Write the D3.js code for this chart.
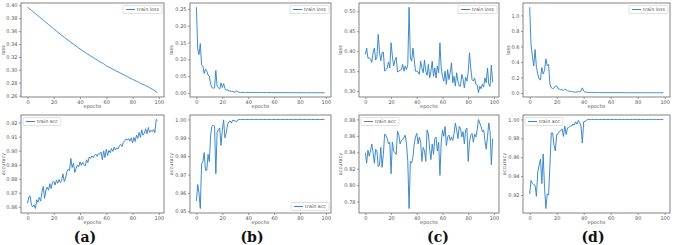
<!DOCTYPE html>
<html><head><meta charset="utf-8">
<script src="https://cdn.jsdelivr.net/npm/d3@7"></script>
<style>
html,body{margin:0;padding:0;background:#fff;}
svg{display:block;}
</style></head>
<body><svg id="c" width="676" height="245"></svg>
<script>
const epochs = d3.range(100);
const epochTicks = [0,20,40,60,80,100];
const panelLabels = ["(a)","(b)","(c)","(d)"];

const lossA = [0.397,0.3955,0.3938,0.3922,0.3905,0.3888,0.3872,0.3855,0.3839,0.3821,
0.3804,0.3787,0.3770,0.3754,0.3737,0.3720,0.3703,0.3686,0.3669,0.3653,
0.3636,0.3619,0.3602,0.3586,0.3570,0.3553,0.3537,0.3521,0.3505,0.3489,
0.3473,0.3458,0.3443,0.3428,0.3412,0.3397,0.3383,0.3368,0.3353,0.3338,
0.3324,0.3310,0.3296,0.3283,0.3269,0.3255,0.3242,0.3229,0.3216,0.3203,
0.3190,0.3178,0.3165,0.3153,0.3140,0.3128,0.3116,0.3104,0.3093,0.3081,
0.3060,0.3052,0.3043,0.3031,0.3020,0.3008,0.2997,0.2986,0.2975,0.2968,
0.2958,0.2947,0.2936,0.2926,0.2916,0.2906,0.2896,0.2886,0.2872,0.2862,
0.2852,0.2844,0.2833,0.2824,0.2815,0.2801,0.2792,0.2783,0.2774,0.2765,
0.2755,0.2744,0.2734,0.2724,0.2713,0.2700,0.2688,0.2675,0.2660,0.2645];

const accA = [0.8625,0.8670,0.8678,0.8612,0.8600,0.8615,0.8588,0.8650,0.8632,0.8668,
0.8641,0.8705,0.8745,0.8660,0.8720,0.8740,0.8718,0.8765,0.8730,0.8775,
0.8782,0.8755,0.8790,0.8768,0.8795,0.8772,0.8790,0.8835,0.8780,0.8805,
0.8850,0.8868,0.8858,0.8945,0.8880,0.8910,0.8845,0.8872,0.8898,0.8885,
0.8920,0.8895,0.8918,0.8900,0.8890,0.8935,0.8915,0.8955,0.8945,0.8962,
0.8950,0.8968,0.8975,0.8960,0.8978,0.8975,0.8990,0.8935,0.8998,0.8950,
0.9010,0.8965,0.9002,0.8985,0.9015,0.8995,0.9025,0.9005,0.9020,0.9012,
0.9035,0.9045,0.9030,0.9060,0.9070,0.9082,0.9075,0.9085,0.9068,0.9090,
0.9055,0.9095,0.9065,0.9110,0.9088,0.9130,0.9095,0.9148,0.9110,0.9125,
0.9155,0.9120,0.9165,0.9130,0.9145,0.9135,0.9150,0.9128,0.9222,0.9215];

const lossB = [0.255,0.130,0.114,0.147,0.084,0.079,0.058,0.071,0.065,0.053,
0.050,0.026,0.016,0.014,0.015,0.067,0.020,0.016,0.012,0.030,
0.016,0.028,0.014,0.008,0.010,0.005,0.007,0.004,0.005,0.003,
0.002,0.007,0.003,0.002,0.0018,0.0017,0.0016,0.0016,0.0015,0.0015,
0.0015,0.0014,0.0014,0.0014,0.0013,0.0013,0.0013,0.0013,0.0012,0.0012,
0.0012,0.0012,0.0012,0.0011,0.0011,0.0011,0.0011,0.0011,0.0011,0.0010,
0.0010,0.0010,0.0010,0.0010,0.0010,0.0010,0.0009,0.0009,0.0009,0.0009,
0.0009,0.0009,0.0009,0.0009,0.0009,0.0008,0.0008,0.0008,0.0008,0.0008,
0.0008,0.0008,0.0008,0.0008,0.0008,0.0008,0.0007,0.0007,0.0007,0.0007,
0.0007,0.0007,0.0007,0.0007,0.0007,0.0007,0.0007,0.0007,0.0007,0.0007];

const accB = [0.9556,0.9646,0.9600,0.9515,0.9758,0.9770,0.9820,0.9723,0.9723,0.9810,
0.9770,0.9915,0.9963,0.9970,0.9963,0.9704,0.9930,0.9944,0.9954,0.9858,
0.9940,0.9998,0.9900,0.9925,0.9970,0.9987,0.9992,0.9980,0.9996,0.9994,
0.9992,0.9987,0.9998,1,1,1,1,1,1,1,
1,1,1,1,1,1,1,1,1,1, 1,1,1,1,1,1,1,1,1,1,
1,1,1,1,1,1,1,1,1,1, 1,1,1,1,1,1,1,1,1,1,
1,1,1,1,1,1,1,1,1,1, 1,1,1,1,1,1,1,1,1,1];

const lossC = [0.392,0.408,0.383,0.383,0.381,0.372,0.396,0.408,0.378,0.386,
0.442,0.398,0.376,0.396,0.398,0.350,0.354,0.358,0.373,0.358,
0.421,0.388,0.363,0.377,0.385,0.348,0.350,0.352,0.354,0.367,
0.350,0.363,0.354,0.367,0.510,0.383,0.375,0.408,0.379,0.350,
0.350,0.348,0.342,0.375,0.358,0.346,0.378,0.350,0.340,0.367,
0.333,0.350,0.375,0.337,0.358,0.333,0.363,0.346,0.421,0.358,
0.337,0.325,0.350,0.317,0.354,0.329,0.346,0.371,0.321,0.337,
0.3125,0.346,0.325,0.3125,0.3125,0.342,0.329,0.308,0.335,0.325,
0.348,0.396,0.358,0.329,0.325,0.333,0.317,0.315,0.296,0.3125,
0.306,0.317,0.310,0.333,0.321,0.358,0.317,0.312,0.365,0.322];

const accC = [0.8396,0.8268,0.8426,0.8353,0.8417,0.8502,0.8396,0.8268,0.8438,0.8417,
0.8226,0.8238,0.8460,0.8217,0.8374,0.8621,0.8609,0.8566,0.8502,0.8523,
0.8140,0.8523,0.8417,0.8396,0.8374,0.8660,0.8609,0.8502,0.8545,0.8553,
0.8579,0.8609,0.8502,0.8289,0.7715,0.8289,0.8268,0.8340,0.8502,0.8587,
0.8630,0.8502,0.8587,0.8523,0.8289,0.8460,0.8417,0.8289,0.8672,0.8630,
0.8438,0.8311,0.8502,0.8374,0.8566,0.8587,0.8417,0.8523,0.8119,0.8523,
0.8672,0.8596,0.8715,0.8481,0.8587,0.8609,0.8545,0.8587,0.8545,0.8630,
0.8757,0.8672,0.8566,0.8715,0.8694,0.8587,0.8651,0.8502,0.8672,0.8694,
0.8289,0.8523,0.8609,0.8630,0.8523,0.8621,0.8587,0.8672,0.8800,0.8757,
0.8715,0.8651,0.8672,0.8545,0.8438,0.8587,0.8757,0.8651,0.8247,0.8566];

const lossD = [1.105,0.620,0.475,0.350,0.560,0.330,0.245,0.180,0.170,0.330,
0.245,0.290,0.440,0.350,0.370,0.118,0.067,0.055,0.065,0.088,
0.092,0.055,0.050,0.040,0.045,0.035,0.050,0.040,0.030,0.025,
0.020,0.018,0.015,0.013,0.012,0.014,0.018,0.015,0.025,0.067,
0.025,0.010,0.015,0.008,0.007,0.007,0.006,0.006,0.006,0.006,
0.006,0.006,0.006,0.005,0.005,0.005,0.005,0.005,0.005,0.005,
0.005,0.005,0.005,0.005,0.005,0.005,0.005,0.005,0.005,0.005,
0.004,0.004,0.004,0.004,0.004,0.004,0.004,0.004,0.004,0.004,
0.004,0.004,0.004,0.004,0.004,0.004,0.004,0.004,0.004,0.004,
0.004,0.004,0.004,0.004,0.004,0.004,0.004,0.004,0.004,0.004];

const accD = [0.921,0.9354,0.932,0.931,0.930,0.9186,0.9444,0.9516,0.958,0.932,
0.9634,0.928,0.9056,0.921,0.920,0.9516,0.9857,0.9857,0.973,0.9666,
0.984,0.9846,0.9874,0.988,0.990,0.982,0.993,0.984,0.991,0.9915,
0.993,0.993,0.9953,0.994,0.9975,0.995,0.999,0.9965,0.993,0.975,
0.9975,0.998,0.999,1,1,1,1,1,1,1,
1,1,1,1,1,1,1,1,1,1, 1,1,1,1,1,1,1,1,1,1,
1,1,1,1,1,1,1,1,1,1, 1,1,1,1,1,1,1,1,1,1,
1,1,1,1,1,1,1,1,1,1];

const ticksLossA = [0.26,0.28,0.30,0.32,0.34,0.36,0.38,0.40];
const ticksAccA  = [0.86,0.87,0.88,0.89,0.90,0.91,0.92];
const ticksLossB = [0.00,0.05,0.10,0.15,0.20,0.25];
const ticksAccB  = [0.95,0.96,0.97,0.98,0.99,1.00];
const ticksLossC = [0.30,0.35,0.40,0.45,0.50];
const ticksAccC  = [0.78,0.80,0.82,0.84,0.86,0.88];
const ticksLossD = [0.0,0.2,0.4,0.6,0.8,1.0];
const ticksAccD  = [0.92,0.94,0.96,0.98,1.00];

const svg = d3.select("#c");
const cols = [[21,164],[190,331],[359,499],[523,670]];
const rows = [[3,97],[115,213]];
const labelX = [85,252,438,593];

const panels = [
 {c:0,r:0,data:lossA,ticks:ticksLossA,fmt:".2f",ylab:"loss",leg:"train loss",pos:"ur"},
 {c:1,r:0,data:lossB,ticks:ticksLossB,fmt:".2f",ylab:"loss",leg:"train loss",pos:"ur"},
 {c:2,r:0,data:lossC,ticks:ticksLossC,fmt:".2f",ylab:"loss",leg:"train loss",pos:"ur"},
 {c:3,r:0,data:lossD,ticks:ticksLossD,fmt:".1f",ylab:"loss",leg:"train loss",pos:"ur"},
 {c:0,r:1,data:accA,ticks:ticksAccA,fmt:".2f",ylab:"accuracy",leg:"train acc",pos:"ul"},
 {c:1,r:1,data:accB,ticks:ticksAccB,fmt:".2f",ylab:"accuracy",leg:"train acc",pos:"lr"},
 {c:2,r:1,data:accC,ticks:ticksAccC,fmt:".2f",ylab:"accuracy",leg:"train acc",pos:"ul"},
 {c:3,r:1,data:accD,ticks:ticksAccD,fmt:".2f",ylab:"accuracy",leg:"train acc",pos:"ul"}
];

const FS = 5;
const FONT = "DejaVu Sans, sans-serif";
const lineColor = "#3585c8";
const textColor = "#555";

panels.forEach(p => {
  const [x0,x1] = cols[p.c], [y0,y1] = rows[p.r];
  const x = d3.scaleLinear().domain([-4.95,103.95]).range([x0,x1]);
  const [mn,mx] = d3.extent(p.data);
  const pad = (mx-mn)*0.05;
  const y = d3.scaleLinear().domain([mn-pad,mx+pad]).range([y1,y0]);
  const g = svg.append("g");

  const xa = g.append("g").attr("transform",`translate(0,${y1})`)
    .call(d3.axisBottom(x).tickValues(epochTicks).tickSize(2).tickPadding(1.5).tickFormat(d3.format("d")));
  const ya = g.append("g").attr("transform",`translate(${x0},0)`)
    .call(d3.axisLeft(y).tickValues(p.ticks).tickSize(2).tickPadding(1.5).tickFormat(d3.format(p.fmt)));
  [xa,ya].forEach(a=>{
    a.attr("font-family",FONT).attr("font-size",FS);
    a.select(".domain").remove();
    a.selectAll("line").attr("stroke","#555").attr("stroke-width",0.6);
    a.selectAll("text").attr("fill",textColor);
  });

  g.append("path").datum(p.data)
    .attr("fill","none").attr("stroke",lineColor).attr("stroke-width",0.95)
    .attr("stroke-linejoin","round")
    .attr("d",d3.line().x((d,i)=>x(epochs[i])).y(d=>y(d)));

  g.append("rect").attr("x",x0).attr("y",y0).attr("width",x1-x0).attr("height",y1-y0)
    .attr("fill","none").attr("stroke","#777").attr("stroke-width",0.9);

  g.append("text").attr("x",(x0+x1)/2).attr("y",y1+11).attr("text-anchor","middle")
    .attr("font-family",FONT).attr("font-size",FS).attr("fill",textColor).text("epochs");

  let maxW = 0;
  ya.selectAll("text").each(function(){ maxW = Math.max(maxW,this.getComputedTextLength()); });
  const ylx = Math.max(4.5, x0 - 3.5 - maxW - 2);
  g.append("text").attr("transform",`translate(${ylx},${(y0+y1)/2}) rotate(-90)`)
    .attr("text-anchor","middle").attr("font-family",FONT).attr("font-size",FS)
    .attr("fill",textColor).text(p.ylab);

  const lg = g.append("g");
  const t = lg.append("text").attr("font-family",FONT).attr("font-size",FS-0.2)
    .attr("fill",textColor).text(p.leg);
  const tw = t.node().getComputedTextLength();
  const bw = 3 + 9 + 2 + tw + 3, bh = 8;
  let bx, by;
  if (p.pos==="ur") { bx = x1-2-bw; by = y0+2.5; }
  else if (p.pos==="ul") { bx = x0+2; by = y0+2.5; }
  else { bx = x1-2-bw; by = y1-2.5-bh; }
  lg.insert("rect","text").attr("x",bx).attr("y",by).attr("width",bw).attr("height",bh)
    .attr("rx",1).attr("fill","#fff").attr("stroke","#ccc").attr("stroke-width",0.6);
  lg.append("line").attr("x1",bx+3).attr("x2",bx+12).attr("y1",by+bh/2).attr("y2",by+bh/2)
    .attr("stroke",lineColor).attr("stroke-width",1);
  t.attr("x",bx+14).attr("y",by+bh/2+1.7);
});

panelLabels.forEach((l,i)=>{
  svg.append("text").attr("x",labelX[i]).attr("y",242).attr("text-anchor","middle")
    .attr("font-family","DejaVu Serif, Liberation Serif, serif").attr("font-weight","bold")
    .attr("font-size",14).attr("fill","#111").text(l);
});
</script></body></html>
